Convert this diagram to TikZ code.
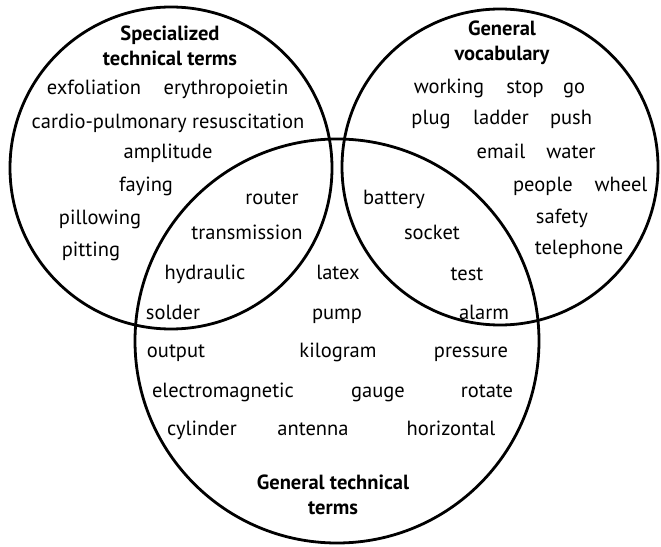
\documentclass[tikz,border=0pt]{standalone}
\usepackage{fontspec}
\setmainfont{PT Sans}
\begin{document}
\begin{tikzpicture}[x=1bp,y=-1bp,
  ring/.style={draw=black,line width=2.8bp},
  word/.style={inner sep=0pt,text height=17bp,text depth=3bp,font=\fontsize{20.5bp}{24bp}\selectfont},
  head/.style={inner sep=0pt,align=center,font=\fontsize{20.5bp}{25.5bp}\selectfont\bfseries}]
\useasboundingbox (0,0) rectangle (661,547);
\draw[ring] (171,168) circle[radius=161bp];
\draw[ring] (500,167) circle[radius=158bp];
\draw[ring] (337,341) circle[radius=202bp];
% headings
\node[head] (h1) at (170,46) {Specialized\\technical terms};
\node[head] (h2) at (502,43) {General\\vocabulary};
\node[head] (h3) at (333,495) {General technical\\terms};
% specialized only
\node[word] (w1) at (94,88) {exfoliation};
\node[word] (w2) at (226,88) {erythropoietin};
\node[word] (w3) at (168,122) {cardio-pulmonary resuscitation};
\node[word] (w4) at (168,152) {amplitude};
\node[word] (w5) at (146,185) {faying};
\node[word] (w6) at (100,218) {pillowing};
\node[word] (w7) at (91,250) {pitting};
% specialized & technical
\node[word] (w8) at (272,198) {router};
\node[word] (w9) at (247,233) {transmission};
\node[word] (w10) at (205,272) {hydraulic};
\node[word] (w11) at (173,312) {solder};
% general vocabulary only
\node[word] (v1) at (449,87) {working};
\node[word] (v2) at (525,87) {stop};
\node[word] (v3) at (574,87) {go};
\node[word] (v4) at (431,118) {plug};
\node[word] (v5) at (501,118) {ladder};
\node[word] (v6) at (571,118) {push};
\node[word] (v7) at (501,152) {email};
\node[word] (v8) at (571,152) {water};
\node[word] (v9) at (543,185) {people};
\node[word] (v10) at (621,185) {wheel};
\node[word] (v11) at (562,217) {safety};
\node[word] (v12) at (579,248) {telephone};
% vocabulary & technical
\node[word] (b1) at (394,198) {battery};
\node[word] (b2) at (432,233) {socket};
\node[word] (b3) at (467,273) {test};
\node[word] (b4) at (484,312) {alarm};
% general technical only
\node[word] (t1) at (338,272) {latex};
\node[word] (t2) at (337,312) {pump};
\node[word] (t3) at (176,350) {output};
\node[word] (t4) at (338,350) {kilogram};
\node[word] (t5) at (471,350) {pressure};
\node[word] (t6) at (223,390) {electromagnetic};
\node[word] (t7) at (378,390) {gauge};
\node[word] (t8) at (487,390) {rotate};
\node[word] (t9) at (202,428) {cylinder};
\node[word] (t10) at (313,428) {antenna};
\node[word] (t11) at (451,428) {horizontal};
\end{tikzpicture}
\end{document}
